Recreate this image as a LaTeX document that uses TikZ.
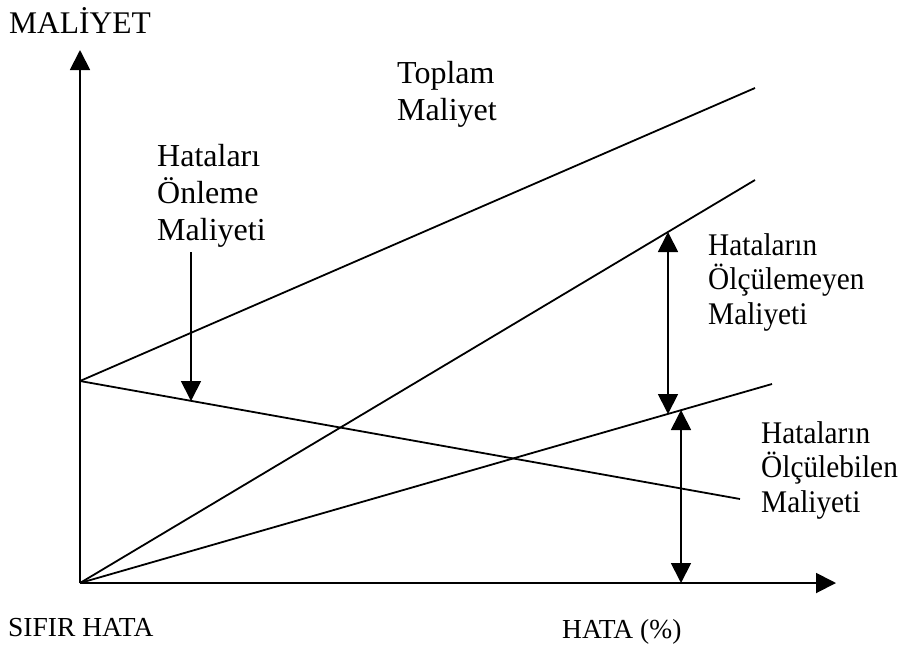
\documentclass[tikz,border=0pt]{standalone}
\usepackage{fontspec}
\setmainfont{Liberation Serif}
\newfontfamily\narrowserif[FakeStretch=0.93]{Liberation Serif}
\usetikzlibrary{arrows.meta}
\begin{document}
\begin{tikzpicture}[x=1pt,y=-1pt,
  curve/.style={line width=1.8pt},
  axis/.style={line width=1.9pt,-{Triangle[length=20pt,width=20pt]}},
  marker/.style={line width=1.8pt,-{Triangle[length=20pt,width=20pt]}},
  span/.style={line width=1.8pt,{Triangle[length=20pt,width=20pt]}-{Triangle[length=20pt,width=20pt]}},
  lbl/.style={inner sep=0pt,anchor=north west,align=left,font=\fontsize{32}{37}\selectfont},
  rlbl/.style={lbl,font=\narrowserif\fontsize{31.5}{34.5}\selectfont},
  axlbl/.style={inner sep=0pt,anchor=base west,font=\fontsize{27.5}{30}\selectfont}]
\useasboundingbox (0,0) rectangle (901,646);

% axes
\coordinate (O) at (80,583);
\coordinate (ytop) at (80,50);
\coordinate (xend) at (836,583);
\draw[axis] (O) -- (ytop);
\draw[axis] (O) -- (xend);

% cost lines
\coordinate (F) at (80,381);
\coordinate (totalEnd) at (755,88);
\coordinate (prevEnd) at (740,499);
\coordinate (unmeasEnd) at (755,180);
\coordinate (measEnd) at (772,384);
\draw[curve] (F) -- (totalEnd);
\draw[curve] (F) -- (prevEnd);
\draw[curve] (O) -- (unmeasEnd);
\draw[curve] (O) -- (measEnd);

% markers
\coordinate (pA) at (191,252);
\coordinate (pB) at (191,401);
\draw[marker] (pA) -- (pB);

\coordinate (uA) at (668,232);
\coordinate (uB) at (668,414);
\draw[span] (uA) -- (uB);

\coordinate (mA) at (681,410);
\coordinate (mB) at (681,583);
\draw[span] (mA) -- (mB);

% labels
\node[inner sep=0pt,anchor=base west,font=\fontsize{31.5}{35}\selectfont] (ylabel) at (9,33) {MALİYET};
\node[lbl] (total) at (397,61) {Toplam\\Maliyet};
\node[lbl] (prev) at (157,144) {Hataları\\Önleme\\Maliyeti};
\node[rlbl] (unmeas) at (708,233) {Hataların\\Ölçülemeyen\\Maliyeti};
\node[rlbl] (meas) at (761,421) {Hataların\\Ölçülebilen\\Maliyeti};
\node[axlbl] (zero) at (8,636) {SIFIR HATA};
\node[axlbl] (xlabel) at (562,638) {HATA (\%)};
\end{tikzpicture}
\end{document}
